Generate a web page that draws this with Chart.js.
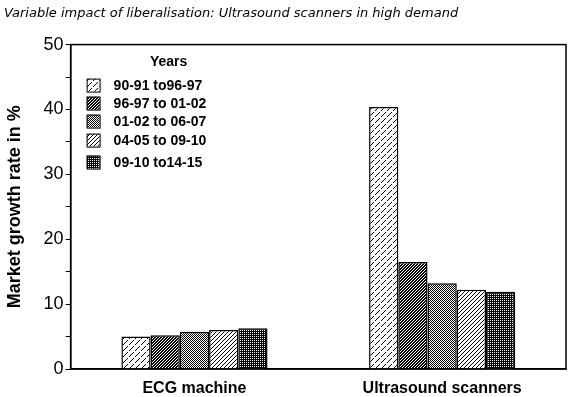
<!DOCTYPE html>
<html>
<head>
<meta charset="utf-8">
<script src="https://cdn.jsdelivr.net/npm/chart.js@4"></script>
<style>
    html, body { margin: 0; padding: 0; background: #fff; }
</style>
</head>
<body>
<canvas id="chart" width="576" height="397"></canvas>
<script>
const categories = ['ECG machine', 'Ultrasound scanners'];
const periods = ['90-91 to96-97', '96-97 to 01-02', '01-02 to 06-07', '04-05 to 09-10', '09-10 to14-15'];
// growth per period: [ECG machine, Ultrasound scanners]
const p1 = [5.0, 40.4];
const p2 = [5.2, 16.5];
const p3 = [5.7, 13.2];
const p4 = [6.0, 12.2];
const p5 = [6.3, 11.9];
const yTickValues = [0, 5, 10, 15, 20, 25, 30, 35, 40, 45, 50];
const yTickLabels = ['0', '', '10', '', '20', '', '30', '', '40', '', '50'];

// little bitmap fills, drawn pixel by pixel
function pattern(size, bg, fg, pixels) {
    let c = document.createElement('canvas');
    c.width = size;
    c.height = size;
    let x = c.getContext('2d');
    x.fillStyle = bg;
    x.fillRect(0, 0, size, size);
    x.fillStyle = fg;
    pixels.forEach(function (p) { x.fillRect(p[0], p[1], 1, 1); });
    return x.createPattern(c, 'repeat');
}

let px1 = [];
for (let i = 0; i < 12; i++) {
    if (i % 6 != 2) {
        px1.push([i, 11 - i]);
        px1.push([(i + 6) % 12, 11 - i]);
    }
}
let px2 = [];
for (let i = 0; i < 3; i++) {
    px2.push([i, 2 - i]);
    px2.push([(i + 1) % 3, 2 - i]);
}
let px4 = [];
for (let i = 0; i < 4; i++) {
    px4.push([i, 3 - i]);
}

const fill1 = pattern(12, '#fff', '#000', px1);
const fill2 = pattern(3, '#fff', '#000', px2);
const fill3 = pattern(2, '#fff', '#000', [[0, 0], [1, 1]]);
const fill4 = pattern(4, '#fff', '#000', px4);
const fill5 = pattern(2, '#000', '#fff', [[0, 0]]);

// frame round the plot + legend inside it, top left
const framePlugin = {
    id: 'frame',
    afterDraw(chart) {
        let ctx = chart.ctx;
        let a = chart.chartArea;
        ctx.save();
        ctx.strokeStyle = '#000';
        ctx.lineWidth = 1.5;
        ctx.strokeRect(a.left, a.top, a.right - a.left, a.bottom - a.top);

        ctx.fillStyle = '#000';
        ctx.font = 'bold 14px "Liberation Sans", Arial';
        ctx.textAlign = 'center';
        ctx.textBaseline = 'middle';
        ctx.fillText('Years', a.left + 98, a.top + 18);

        let offs = [0, 18, 36, 55, 77];
        ctx.textAlign = 'left';
        chart.data.datasets.forEach(function (ds, i) {
            let y = a.top + 34 + offs[i];
            ctx.fillStyle = ds.backgroundColor;
            ctx.fillRect(a.left + 16, y, 13, 13);
            ctx.lineWidth = 1;
            ctx.strokeRect(a.left + 16.5, y + 0.5, 13, 13);
            ctx.fillStyle = '#000';
            ctx.fillText(ds.label, a.left + 43, y + 8);
        });
        ctx.restore();
    }
};

const series = [p1, p2, p3, p4, p5];
const fills = [fill1, fill2, fill3, fill4, fill5];

let ctx = document.getElementById('chart').getContext('2d');
let chart = new Chart(ctx, {
    type: 'bar',
    data: {
        labels: categories,
        datasets: series.map(function (d, i) {
            return {
                label: periods[i],
                data: d,
                backgroundColor: fills[i],
                borderColor: '#000',
                borderWidth: 1.5,
                categoryPercentage: 0.59,
                barPercentage: 1.0
            };
        })
    },
    options: {
        responsive: false,
        devicePixelRatio: 1,
        animation: false,
        layout: {
            padding: { left: 4, right: 10, top: 0, bottom: 0 }
        },
        plugins: {
            legend: { display: false },
            tooltip: { enabled: false },
            title: {
                display: true,
                text: 'Variable impact of liberalisation: Ultrasound scanners in high demand',
                align: 'start',
                color: '#000',
                font: { family: '"DejaVu Sans"', size: 13, style: 'italic', weight: 'normal' },
                padding: { top: 6, bottom: 23 }
            }
        },
        scales: {
            x: {
                grid: { display: false, drawTicks: false },
                border: { color: '#000', width: 1.5 },
                afterFit: function (scale) {
                    scale.height = 28;
                },
                ticks: {
                    color: '#000',
                    padding: 10,
                    font: { family: '"Liberation Sans", Arial', size: 16, weight: 'bold' }
                }
            },
            y: {
                min: 0,
                max: 50,
                afterBuildTicks: function (scale) {
                    scale.ticks = yTickValues.map(function (v) { return { value: v }; });
                },
                grid: {
                    drawOnChartArea: false,
                    tickLength: 5,
                    tickColor: '#000',
                    tickWidth: 1
                },
                border: { color: '#000', width: 1.5 },
                ticks: {
                    color: '#000',
                    padding: 2,
                    autoSkip: false,
                    font: { family: '"Liberation Sans", Arial', size: 18 },
                    callback: function (v, i) { return yTickLabels[i]; }
                },
                title: {
                    display: true,
                    text: 'Market growth rate in %',
                    color: '#000',
                    font: { family: '"Liberation Sans", Arial', size: 18, weight: 'bold' },
                    padding: { top: 0, bottom: 16 }
                }
            }
        }
    },
    plugins: [framePlugin]
});
</script>
</body>
</html>
